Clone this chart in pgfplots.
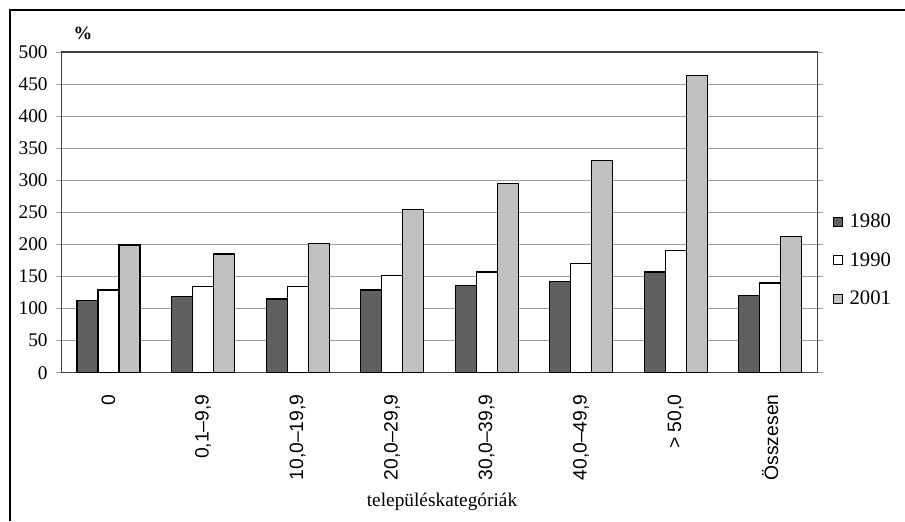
\documentclass[border=0pt]{standalone}
\usepackage{pgfplots}
\pgfplotsset{compat=1.18}
\usepackage{fontspec}
\setmainfont{Liberation Serif}
\newfontfamily\sansf{Liberation Sans}
\definecolor{dark}{HTML}{606060}
\definecolor{light}{HTML}{C0C0C0}
\definecolor{gridc}{HTML}{A0A0A0}
\pgfplotstableread{
x v1980 v1990 v2001
0 112 129 199
1 119 134 185
2 115 134 202
3 129 151 255
4 136 157 295
5 142 170 331
6 157 191 463
7 121 140 212
}\datatable
\begin{document}
\begin{tikzpicture}[x=0.75pt,y=0.75pt]
\path[use as bounding box] (0,0) rectangle (905,521);
\draw[line width=1.5pt] (10,0) -- (10,511) -- (905,511);
\begin{axis}[
  at={(45.975pt,111.225pt)}, anchor=south west,
  scale only axis, width=567.15pt, height=240.5pt,
  ybar=0pt, bar width=15.75pt,
  xmin=-0.5, xmax=7.5, ymin=0, ymax=500,
  ytick={0,50,...,500},
  xtick={0,...,7},
  xticklabels={0, {0,1–9,9}, {10,0–19,9}, {20,0–29,9}, {30,0–39,9}, {40,0–49,9}, {> 50,0}, Összesen},
  x tick style={draw=none},
  y tick style={draw=gridc, line width=0.75pt},
  tick align=outside, major tick length=3.75pt,
  ymajorgrids, grid style={gridc, line width=0.75pt},
  axis line style={draw=black!75, line width=0.9pt},
  /pgf/number format/assume math mode=true,
  yticklabel style={font=\fontsize{14.5}{15}\selectfont, xshift=-3pt},
  xticklabel style={font=\sansf\fontsize{14.5}{15}\selectfont, yshift=-9pt, rotate=90, anchor=east},
  legend style={at={(1.015,0.351)}, anchor=west, draw=none, fill=none,
    font=\fontsize{15.5}{16}\selectfont, row sep=13pt,
    legend cell align=left,
    /tikz/every odd column/.append style={column sep=3pt}},
  legend image code/.code={\draw[#1, line width=0.6pt] (0pt,-3.4pt) rectangle (6.8pt,3.4pt);},
  every axis plot/.append style={draw=black, line width=0.9pt},
]
\addplot[fill=dark] table[x=x,y=v1980] {\datatable};
\addplot[fill=white] table[x=x,y=v1990] {\datatable};
\addplot[fill=light] table[x=x,y=v2001] {\datatable};
\legend{1980,1990,2001}
\end{axis}
\node[font=\bfseries\fontsize{14}{15}\selectfont] at (83,488) {\%};
\node[font=\fontsize{14.5}{15}\selectfont] at (442,19) {településkategóriák};
\end{tikzpicture}
\end{document}
